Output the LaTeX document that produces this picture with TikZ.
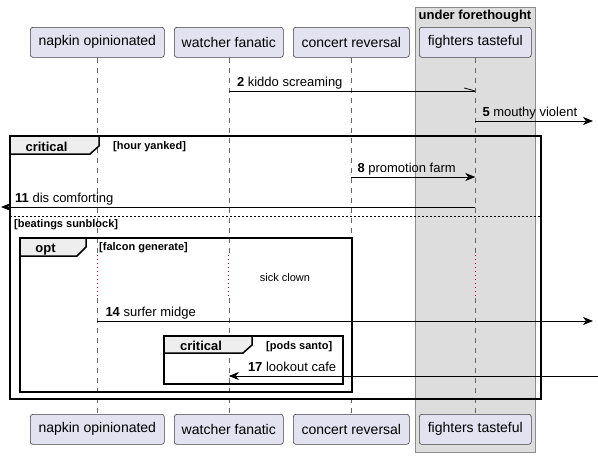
\documentclass[tikz,border=0pt]{standalone}
\usepackage{fontspec}
\setmainfont{Liberation Sans}
\usetikzlibrary{arrows.meta, calc, positioning}

\definecolor{actorFill}{HTML}{E2E2F0}
\definecolor{boxFill}{HTML}{DDDDDD}
\definecolor{tabFill}{HTML}{EEEEEE}
\definecolor{delayRed}{HTML}{A80036}

\tikzset{
  actorbox/.style={draw=black!75, fill=actorFill, rounded corners=2.5pt, line width=0.6pt,
    minimum height=30pt, inner sep=0pt, anchor=north west, font=\fontsize{14}{16}\selectfont},
  lifeline/.style={draw=black!60, line width=0.6pt, dash pattern=on 5pt off 5pt},
  delayline/.style={draw=delayRed, line width=1pt, dash pattern=on 1pt off 3pt},
  msg/.style={line width=0.8pt},
  msglabel/.style={anchor=base west, inner sep=0pt, font=\fontsize{13}{15}\selectfont},
  frame/.style={line width=1.5pt, line join=miter},
  tablabel/.style={anchor=base, inner sep=0pt, font=\bfseries\fontsize{13}{15}\selectfont},
  condlabel/.style={anchor=base west, inner sep=0pt, font=\bfseries\fontsize{11}{13}\selectfont},
}

\begin{document}
\begin{tikzpicture}[x=1pt, y=-1pt, >={Stealth[length=10pt, width=8pt, inset=3pt]}]
  \useasboundingbox (0,0) rectangle (598,456);

  % box round the last participant
  \draw[draw=black!45, fill=boxFill, line width=0.8pt] (415,7) rectangle (535,452);
  \node[tablabel] (forethought) at (475,19) {under forethought};

  % participants (top and bottom)
  \node[actorbox, minimum width=134pt] (napTop) at (30,27)  {napkin opinionated};
  \node[actorbox, minimum width=109pt] (watTop) at (174,27) {watcher fanatic};
  \node[actorbox, minimum width=116pt] (conTop) at (293,27) {concert reversal};
  \node[actorbox, minimum width=112pt] (figTop) at (419,27) {fighters tasteful};

  \node[actorbox, minimum width=134pt] (napBot) at (30,414)  {napkin opinionated};
  \node[actorbox, minimum width=109pt] (watBot) at (174,414) {watcher fanatic};
  \node[actorbox, minimum width=116pt] (conBot) at (293,414) {concert reversal};
  \node[actorbox, minimum width=112pt] (figBot) at (419,414) {fighters tasteful};

  % lifelines, dotted during the delay
  \coordinate (delayTop) at (0,255);
  \coordinate (delayBot) at (0,298);
  \foreach \p in {nap,wat,con,fig} {
    \draw[lifeline] (\p Top.south) -- (\p Top.south |- delayTop);
    \draw[delayline] (\p Top.south |- delayTop) -- (\p Top.south |- delayBot);
    \draw[lifeline] (\p Top.south |- delayBot) -- (\p Bot.north);
  }

  % 2 kiddo screaming (half arrow)
  \coordinate (y2) at (0,91);
  \draw[msg] (watTop.south |- y2) coordinate (m2a) -- (figTop.south |- y2) coordinate (m2b);
  \draw[msg] (m2b) -- ++(-11,-3);
  \node[msglabel] (lbl2) at ($(m2a)+(8,-5)$) {\textbf{2} kiddo screaming};

  % 5 mouthy violent
  \coordinate (y5) at (0,121);
  \coordinate (edge5) at (593,121);
  \draw[msg,->] (figTop.south |- y5) coordinate (m5a) -- (edge5);
  \node[msglabel] (lbl5) at ($(m5a)+(7,-5)$) {\textbf{5} mouthy violent};

  % critical [hour yanked]
  \draw[frame] (10,136) rectangle (541,399);
  \draw[frame, fill=tabFill] (10,136) -- (99,136) -- (99,146) -- (90,154) -- (10,154) -- cycle;
  \node[tablabel] (crit1) at (46.5,151) {critical};
  \node[condlabel] (cond1) at (113,149) {[hour yanked]};

  % 8 promotion farm
  \coordinate (y8) at (0,177);
  \draw[msg,->] (conTop.south |- y8) coordinate (m8a) -- (figTop.south |- y8);
  \node[msglabel] (lbl8) at ($(m8a)+(6,-5)$) {\textbf{8} promotion farm};

  % 11 dis comforting
  \coordinate (y11) at (0,207);
  \coordinate (edge11) at (1,207);
  \draw[msg,->] (figTop.south |- y11) -- (edge11);
  \node[msglabel] (lbl11) at ($(edge11)+(14,-5)$) {\textbf{11} dis comforting};

  % else [beatings sunblock]
  \draw[line width=0.7pt, dash pattern=on 2pt off 2pt] (10,216) -- (541,216);
  \node[condlabel] (cond2) at (14,227) {[beatings sunblock]};

  % opt [falcon generate]
  \draw[frame] (20,238) rectangle (352,392);
  \draw[frame, fill=tabFill] (20,238) -- (86,238) -- (86,247) -- (77,256) -- (20,256) -- cycle;
  \node[tablabel] (opt1) at (45.5,252) {opt};
  \node[condlabel] (cond3) at (99,250) {[falcon generate]};

  % delay
  \node[anchor=base, inner sep=0pt, font=\fontsize{11}{13}\selectfont] (delay) at (285,281) {sick clown};

  % 14 surfer midge
  \coordinate (y14) at (0,321);
  \coordinate (edge14) at (593,321);
  \draw[msg,->] (napTop.south |- y14) coordinate (m14a) -- (edge14);
  \node[msglabel] (lbl14) at ($(m14a)+(8,-5)$) {\textbf{14} surfer midge};

  % critical [pods santo]
  \draw[frame] (164,336) rectangle (343,384);
  \draw[frame, fill=tabFill] (164,336) -- (252,336) -- (252,345) -- (243,353) -- (164,353) -- cycle;
  \node[tablabel] (crit2) at (201,350) {critical};
  \node[condlabel] (cond4) at (266,349) {[pods santo]};

  % 17 lookout cafe
  \coordinate (y17) at (0,376);
  \coordinate (edge17) at (598,376);
  \draw[msg,->] (edge17) -- (watTop.south |- y17) coordinate (m17b);
  \node[msglabel] (lbl17) at ($(m17b)+(19,-5)$) {\textbf{17} lookout cafe};

\end{tikzpicture}
\end{document}
